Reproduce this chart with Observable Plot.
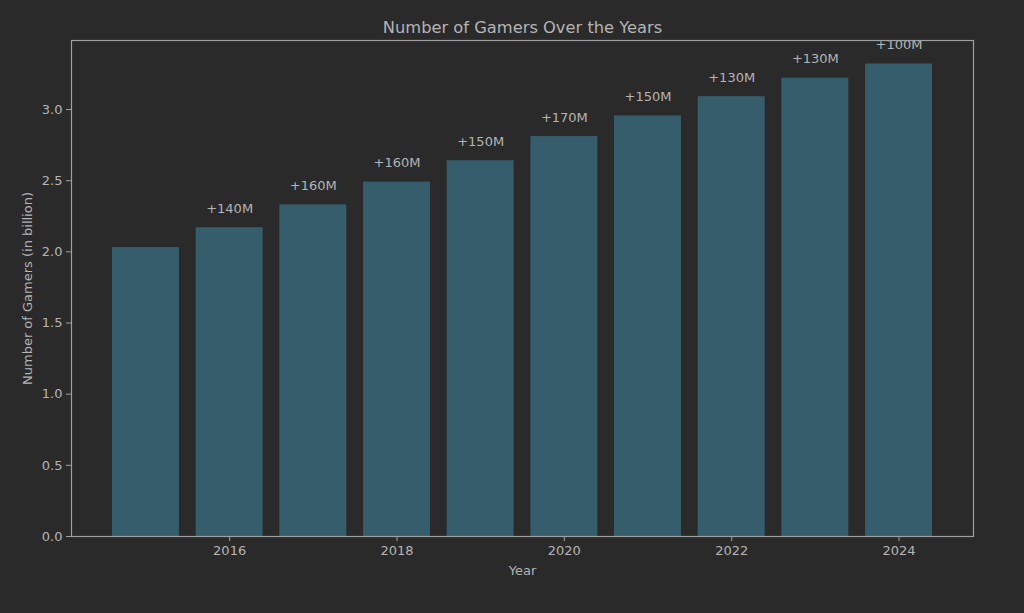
<!DOCTYPE html>
<html>
<head>
<meta charset="utf-8">
<script src="https://cdn.jsdelivr.net/npm/d3@7"></script>
<script src="https://cdn.jsdelivr.net/npm/@observablehq/plot@0.6"></script>
<style>
  html, body { margin: 0; padding: 0; background: #2a2a2a; }
  #chart { width: 1024px; height: 613px; }
</style>
</head>
<body>
<div id="chart"></div>
<script>
const years = [2015, 2016, 2017, 2018, 2019, 2020, 2021, 2022, 2023, 2024];
const gamers = [2.03, 2.17, 2.33, 2.49, 2.64, 2.81, 2.955, 3.09, 3.22, 3.32];
const growthLabels = ["", "+140M", "+160M", "+160M", "+150M", "+170M", "+150M", "+130M", "+130M", "+100M"];
const xTicks = [2016, 2018, 2020, 2022, 2024];
const yTicks = [0, 0.5, 1.0, 1.5, 2.0, 2.5, 3.0];

const data = years.map((y, i) => ({year: y, value: gamers[i], label: growthLabels[i]}));
const textColor = "#b4b4b4";
const axisColor = "#a0a0a0";
const barWidth = 0.8;

const chart = Plot.plot({
  width: 1024,
  height: 613,
  marginLeft: 71,
  marginRight: 51,
  marginTop: 40,
  marginBottom: 77,
  style: {background: "#2a2a2a", color: textColor, fontFamily: "DejaVu Sans, sans-serif", fontSize: "13px"},
  x: {type: "linear", domain: [2014.11, 2024.89]},
  y: {domain: [0, 3.485]},
  marks: [
    Plot.rectY(data, {x1: d => d.year - barWidth / 2, x2: d => d.year + barWidth / 2, y1: 0, y2: "value", fill: "#365d6c"}),
    Plot.text(data.filter(d => d.label), {x: "year", y: "value", text: "label", dy: -19, fill: textColor, fontSize: 13}),
    Plot.frame({stroke: axisColor, strokeWidth: 1.2}),
    Plot.axisX({ticks: xTicks, tickFormat: d => String(d), tickSize: 5, tickPadding: 4, stroke: axisColor, color: textColor,
      label: "Year", labelAnchor: "center", labelArrow: false, labelOffset: 38, fontSize: 13}),
    Plot.axisY({ticks: yTicks, tickFormat: d => d.toFixed(1), tickSize: 5, tickPadding: 4, stroke: axisColor, color: textColor,
      label: "Number of Gamers (in billion)", labelAnchor: "center", labelArrow: false, labelOffset: 49, fontSize: 13}),
    Plot.text(["Number of Gamers Over the Years"], {frameAnchor: "top", dy: -19, fill: textColor, fontSize: 16.3})
  ]
});
document.getElementById("chart").appendChild(chart);
</script>
</body>
</html>
